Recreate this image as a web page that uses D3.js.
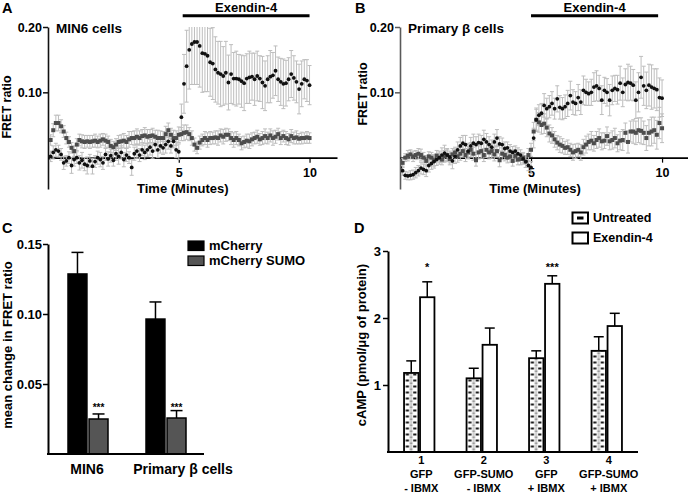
<!DOCTYPE html>
<html>
<head>
<meta charset="utf-8">
<script src="https://cdn.jsdelivr.net/npm/d3@7/dist/d3.min.js"></script>
<style>
  body { margin: 0; background: #fff; }
  svg text { font-family: Arial, "Liberation Sans", Helvetica, sans-serif; font-weight: bold; fill: #000; }
</style>
</head>
<body>
<svg id="chart" width="688" height="496"></svg>
<script>
// ================= DATA =================
// Sampling grid for panels A and B (minutes)
const timeMinutes = d3.range(101).map(i => i / 10);
const timeTicks = [5, 10];
const fretTicks = [0.10, 0.20];

// Panel A – MIN6 cells, FRET ratio (x1000)
const aMCherry = [
  0, 2, 8, 12, 10, 5, -8, -5, 0, -12,
  -3, 0, -8, -4, -10, -12, -5, -13, -6, 0,
  -3, -8, 5, -2, 3, -4, 6, 2, 8, -3,
  4, 0, -15, 6, 10, 4, 12, 8, 12, 16,
  10, 20, 12, 18, 15, 20, 25, 18, 25, 12,
  9, 62, 113, 140, 165, 174, 177, 177, 171, 160,
  159, 156, 146, 144, 135, 130, 128, 125, 130, 115,
  128, 121, 121, 120, 117, 114, 121, 123, 124, 120,
  125, 121, 115, 110, 120, 124, 126, 133, 120, 116,
  113, 114, 120, 128, 122, 116, 105, 113, 120, 118,
  111];
const aMCherryErr = [
  6, 8, 10, 10, 9, 9, 10, 8, 9, 12,
  10, 9, 11, 12, 10, 13, 10, 12, 9, 10,
  11, 10, 9, 11, 10, 9, 10, 12, 10, 11,
  10, 9, 12, 10, 11, 10, 9, 11, 10, 12,
  11, 10, 12, 11, 10, 13, 12, 11, 10, 12,
  12, 20, 45, 55, 60, 62, 65, 65, 63, 60,
  58, 55, 52, 55, 50, 48, 50, 45, 48, 42,
  45, 40, 42, 38, 40, 42, 38, 40, 36, 40,
  38, 35, 40, 38, 36, 40, 35, 38, 34, 36,
  38, 35, 33, 36, 34, 32, 38, 35, 30, 32,
  30];
const aSumo = [
  0, 27, 42, 53, 53, 48, 40, 30, 24, 15,
  10, 20, 27, 25, 24, 25, 24, 25, 26, 24,
  26, 28, 26, 24, 18, 16, 20, 24, 25, 26,
  24, 28, 30, 30, 32, 30, 33, 34, 32, 33,
  34, 32, 30, 30, 30, 36, 42, 35, 30, 30,
  35, 36, 38, 39, 36, 30, 20, 15, 23, 27,
  30, 27, 30, 30, 31, 30, 34, 32, 35, 35,
  30, 27, 30, 27, 22, 24, 26, 25, 28, 30,
  32, 28, 30, 33, 30, 34, 30, 32, 36, 30,
  33, 30, 28, 33, 30, 31, 29, 30, 30, 31,
  30];
const aSumoErr = [
  5, 8, 10, 12, 12, 10, 9, 9, 8, 8,
  8, 9, 9, 10, 10, 9, 10, 9, 10, 9,
  10, 9, 10, 9, 10, 9, 9, 10, 10, 11,
  10, 12, 10, 11, 12, 11, 10, 12, 11, 10,
  11, 10, 12, 11, 10, 12, 11, 10, 12, 11,
  12, 10, 12, 11, 10, 11, 10, 9, 10, 9,
  10, 11, 10, 9, 10, 11, 10, 11, 10, 9,
  10, 11, 10, 9, 10, 9, 10, 11, 10, 9,
  10, 9, 10, 11, 9, 10, 11, 10, 9, 10,
  9, 10, 9, 10, 9, 10, 8, 9, 8, 9,
  8];

// Panel B – Primary beta cells, FRET ratio (x1000)
const bMCherry = [
  -15, -20, -27, -28, -27, -26, -23, -20, -16, -18,
  -20, -12, -9, -6, -3, 0, 4, 7, 4, 1,
  -5, 2, 12, 18, 22, 20, 10, 18, 22, 20,
  23, 22, 28, 24, 20, 16, 24, 30, 21, 20,
  14, 15, 10, 8, 10, 6, 4, -2, -6, -12,
  -15, 30, 58, 65, 68, 80, 75, 78, 83, 75,
  90, 77, 75, 78, 83, 95, 85, 83, 92, 85,
  103, 100, 98, 100, 108, 110, 106, 88, 103, 100,
  88, 103, 106, 104, 114, 100, 112, 115, 114, 111,
  88, 100, 123, 110, 103, 111, 108, 106, 104, 92,
  91];
const bMCherryErr = [
  8, 7, 6, 6, 7, 7, 8, 8, 9, 8,
  9, 10, 9, 10, 9, 10, 11, 12, 10, 9,
  12, 11, 12, 13, 12, 14, 12, 13, 14, 12,
  13, 12, 14, 13, 12, 11, 12, 13, 11, 10,
  10, 9, 10, 9, 8, 9, 8, 8, 9, 8,
  9, 15, 18, 16, 15, 18, 16, 17, 18, 16,
  20, 18, 17, 18, 20, 22, 19, 18, 20, 19,
  22, 20, 18, 20, 22, 23, 20, 22, 20, 21,
  24, 22, 20, 22, 26, 22, 24, 28, 26, 24,
  28, 30, 32, 30, 28, 32, 34, 30, 32, 30,
  28];
const bSumo = [
  -5, -8, 0, 3, 5, 2, 4, 6, 4, 0,
  -5, 2, 0, -4, 3, 0, -3, 2, 4, -2,
  5, 8, 2, 6, 10, 4, 8, 12, 6, -4,
  8, 10, 4, 12, 8, 10, 5, 10, -4, 6,
  4, 0, 2, -5, 3, -3, -2, 0, -6, 4,
  12, 40, 58, 54, 50, 52, 46, 37, 34, 28,
  23, 20, 18, 15, 16, 12, 8, 10, 12, 8,
  16, 20, 24, 26, 22, 27, 30, 25, 26, 33,
  25, 27, 30, 22, 26, 27, 38, 24, 40, 40,
  38, 42, 41, 38, 30, 38, 40, 42, 35, 53,
  45];
const bSumoErr = [
  7, 7, 6, 8, 7, 8, 7, 8, 9, 8,
  8, 7, 8, 9, 8, 7, 8, 9, 8, 9,
  9, 8, 9, 10, 9, 10, 9, 11, 10, 9,
  10, 11, 10, 12, 10, 11, 10, 9, 10, 9,
  9, 8, 9, 8, 9, 8, 9, 8, 9, 10,
  10, 14, 16, 15, 14, 15, 14, 13, 12, 12,
  11, 12, 11, 10, 11, 10, 12, 11, 10, 12,
  12, 13, 12, 14, 12, 13, 14, 13, 12, 14,
  13, 14, 15, 13, 14, 16, 15, 17, 16, 18,
  18, 19, 20, 18, 19, 20, 22, 20, 22, 24,
  22];

// Panel C – mean change in FRET ratio
const cCategories = ["MIN6", "Primary β cells"];
const cSeriesNames = ["mCherry", "mCherry SUMO"];
const cMCherry = [0.1286, 0.0964];
const cMCherryErr = [0.0154, 0.0122];
const cSumo = [0.0250, 0.0257];
const cSumoErr = [0.0036, 0.0053];
const cSignif = ["***", "***"];
const cTicks = [0.05, 0.10, 0.15];

// Panel D – cAMP
const dGroups = ["1", "2", "3", "4"];
const dLine1 = ["GFP", "GFP-SUMO", "GFP", "GFP-SUMO"];
const dLine2 = ["- IBMX", "- IBMX", "+ IBMX", "+ IBMX"];
const dSeriesNames = ["Untreated", "Exendin-4"];
const dUntreated = [1.18, 1.10, 1.40, 1.51];
const dUntreatedErr = [0.18, 0.15, 0.11, 0.21];
const dExendin = [2.31, 1.60, 2.51, 1.88];
const dExendinErr = [0.23, 0.25, 0.12, 0.19];
const dSignif = ["*", "", "***", ""];
const dTicks = [1, 2, 3];

// ================= DRAWING =================
const svg = d3.select("#chart");
const defs = svg.append("defs");

function letter(t, x, y) {
  svg.append("text").attr("x", x).attr("y", y).attr("font-size", 14.5).text(t);
}

function timePanel(o) {
  const x = d3.scaleLinear().domain([0, o.xMax]).range([o.left, o.right]);
  const y = d3.scaleLinear().domain([-0.048, 0.2]).range([189, 27]);
  const g = svg.append("g");

  // y axis
  const ya = g.append("g").attr("transform", `translate(${o.left},0)`)
    .call(d3.axisLeft(y).tickValues(fretTicks).tickFormat(d3.format(".2f"))
      .tickSize(5).tickSizeOuter(0).tickPadding(1));
  ya.attr("font-size", 12.5);
  ya.select(".domain").attr("stroke", o.yColor).attr("stroke-width", 1.6);
  ya.selectAll(".tick line").attr("stroke", o.yColor).attr("stroke-width", 1.5);

  // x axis at zero
  const xa = g.append("g").attr("transform", `translate(0,${y(0)})`)
    .call(d3.axisBottom(x).tickValues(timeTicks).tickFormat(d3.format("d"))
      .tickSize(5).tickSizeOuter(0).tickPadding(5));
  xa.attr("font-size", 12.5);
  xa.select(".domain").attr("stroke", "#000").attr("stroke-width", 1.6);
  xa.selectAll(".tick line").attr("stroke-width", 1.2);

  // clip
  const clipId = "clip-" + o.id;
  defs.append("clipPath").attr("id", clipId).append("rect")
    .attr("x", o.left + 1).attr("y", y(0.2)).attr("width", o.right - o.left)
    .attr("height", y(-0.048) - y(0.2));
  const plot = g.append("g").attr("clip-path", `url(#${clipId})`);

  const seriesPts = o.series.map(s => timeMinutes.map((t, i) => ({
    t, v: s.values[i] / 1000, e: s.err[i] / 1000
  })));

  // error bars
  seriesPts.forEach(pts => {
    const eb = plot.append("g").attr("stroke", "#bdbdbd").attr("stroke-width", 1);
    eb.selectAll("line.v").data(pts).join("line").attr("class", "v")
      .attr("x1", d => x(d.t)).attr("x2", d => x(d.t))
      .attr("y1", d => y(d.v - d.e)).attr("y2", d => y(d.v + d.e));
    eb.selectAll("line.ct").data(pts).join("line").attr("class", "ct")
      .attr("x1", d => x(d.t) - 2).attr("x2", d => x(d.t) + 2)
      .attr("y1", d => y(d.v + d.e)).attr("y2", d => y(d.v + d.e));
    eb.selectAll("line.cb").data(pts).join("line").attr("class", "cb")
      .attr("x1", d => x(d.t) - 2).attr("x2", d => x(d.t) + 2)
      .attr("y1", d => y(d.v - d.e)).attr("y2", d => y(d.v - d.e));
  });

  // markers: squares (SUMO) then circles (mCherry)
  plot.append("g").selectAll("rect").data(seriesPts[1]).join("rect")
    .attr("x", d => x(d.t) - 2).attr("y", d => y(d.v) - 2)
    .attr("width", 4).attr("height", 4).attr("fill", "#4d4d4d");
  plot.append("g").selectAll("circle").data(seriesPts[0]).join("circle")
    .attr("cx", d => x(d.t)).attr("cy", d => y(d.v)).attr("r", 1.9).attr("fill", "#111");

  // Exendin-4 bar
  g.append("line").attr("x1", x(o.exStart)).attr("x2", x(o.exEnd))
    .attr("y1", 15.8).attr("y2", 15.8).attr("stroke", "#000").attr("stroke-width", 3);
  g.append("text").attr("x", (x(o.exStart) + x(o.exEnd)) / 2).attr("y", 12)
    .attr("text-anchor", "middle").attr("font-size", 13).text("Exendin-4");

  // titles
  g.append("text").attr("x", o.left + 8).attr("y", 33).attr("font-size", 13.5).text(o.title);
  g.append("text").attr("x", x(5) + 4).attr("y", 193).attr("text-anchor", "middle")
    .attr("font-size", 13).text("Time (Minutes)");
  g.append("text").attr("transform", `translate(${o.yLabelX},${o.yLabelY}) rotate(-90)`)
    .attr("text-anchor", "middle").attr("font-size", 12.5).text("FRET ratio");
}

letter("A", 2, 13);
timePanel({
  id: "A", left: 48, right: 337, xMax: 11.05, yColor: "#111",
  exStart: 5.15, exEnd: 10.0, title: "MIN6 cells", yLabelX: 11, yLabelY: 107,
  series: [{ values: aMCherry, err: aMCherryErr }, { values: aSumo, err: aSumoErr }]
});
letter("B", 355, 13);
timePanel({
  id: "B", left: 400, right: 688, xMax: 10.99, yColor: "#5a5a5a",
  exStart: 5.0, exEnd: 9.85, title: "Primary β cells", yLabelX: 367, yLabelY: 94,
  series: [{ values: bMCherry, err: bMCherryErr }, { values: bSumo, err: bSumoErr }]
});

// ---------- Panel C ----------
letter("C", 2, 233);
(function () {
  const x0 = d3.scaleBand().domain(cCategories).range([48, 204]);
  const x1 = d3.scaleBand().domain(cSeriesNames).range([20, 60]).paddingInner(0.1);
  const y = d3.scaleLinear().domain([0, 0.15]).range([454, 244]);
  const g = svg.append("g");
  const fills = { "mCherry": "#000", "mCherry SUMO": "#555" };

  const rows = [];
  cCategories.forEach((c, i) => {
    rows.push({ c, s: "mCherry", v: cMCherry[i], e: cMCherryErr[i], sig: "" });
    rows.push({ c, s: "mCherry SUMO", v: cSumo[i], e: cSumoErr[i], sig: cSignif[i] });
  });
  const bx = d => x0(d.c) + x1(d.s);
  const bw = x1.bandwidth();

  // error bars (up only)
  g.selectAll("line.ev").data(rows).join("line")
    .attr("x1", d => bx(d) + bw / 2).attr("x2", d => bx(d) + bw / 2)
    .attr("y1", d => y(d.v)).attr("y2", d => y(d.v + d.e))
    .attr("stroke", "#000").attr("stroke-width", 1.5);
  g.selectAll("line.ec").data(rows).join("line")
    .attr("x1", d => bx(d) + bw / 2 - 6).attr("x2", d => bx(d) + bw / 2 + 6)
    .attr("y1", d => y(d.v + d.e)).attr("y2", d => y(d.v + d.e))
    .attr("stroke", "#000").attr("stroke-width", 1.5);

  g.selectAll("rect.bar").data(rows).join("rect")
    .attr("x", bx).attr("y", d => y(d.v)).attr("width", bw)
    .attr("height", d => y(0) - y(d.v))
    .attr("fill", d => fills[d.s]).attr("stroke", "#000").attr("stroke-width", 1.5);

  g.selectAll("text.sig").data(rows.filter(d => d.sig)).join("text")
    .attr("x", d => bx(d) + bw / 2).attr("y", 411).attr("text-anchor", "middle")
    .attr("font-size", 10).text(d => d.sig);

  // axes
  const ya = g.append("g").attr("transform", "translate(48,0)")
    .call(d3.axisLeft(y).tickValues(cTicks).tickFormat(d3.format(".2f"))
      .tickSize(5).tickSizeOuter(0).tickPadding(1));
  ya.attr("font-size", 13);
  ya.select(".domain").attr("stroke-width", 2);
  ya.selectAll(".tick line").attr("stroke-width", 1.5);
  g.append("line").attr("x1", 47).attr("x2", 204).attr("y1", y(0)).attr("y2", y(0))
    .attr("stroke", "#000").attr("stroke-width", 2);

  // category labels
  g.selectAll("text.cat").data(cCategories).join("text")
    .attr("x", (d, i) => x0(d) + x0.bandwidth() / 2 + (i === 1 ? 18 : 0))
    .attr("y", 474).attr("text-anchor", "middle").attr("font-size", 14).text(d => d);

  g.append("text").attr("transform", "translate(12,345) rotate(-90)")
    .attr("text-anchor", "middle").attr("font-size", 13).text("mean change in FRET ratio");

  // legend
  const lg = g.append("g");
  cSeriesNames.forEach((s, i) => {
    lg.append("rect").attr("x", 188).attr("y", 241 + i * 15).attr("width", 16).attr("height", 9.5)
      .attr("fill", fills[s]).attr("stroke", "#000").attr("stroke-width", 1.2);
    lg.append("text").attr("x", 209).attr("y", 250 + i * 15).attr("font-size", 13).text(s);
  });
})();

// ---------- Panel D ----------
letter("D", 354, 233);
(function () {
  const x0 = d3.scaleBand().domain(dGroups).range([388, 638]);
  const x1 = d3.scaleBand().domain(dSeriesNames).range([15.25, 47.25]);
  const y = d3.scaleLinear().domain([0, 3]).range([452, 251]);
  const g = svg.append("g");

  // hatch pattern for untreated bars
  const pat = defs.append("pattern").attr("id", "untreatedPat")
    .attr("patternUnits", "userSpaceOnUse")
    .attr("x", x0(dGroups[0]) + x1("Untreated")).attr("y", 0)
    .attr("width", x0.step()).attr("height", 6);
  pat.append("rect").attr("width", x0.step()).attr("height", 6).attr("fill", "#fff");
  pat.append("rect").attr("x", 2.5).attr("y", 1.5).attr("width", 3.2).attr("height", 2).attr("fill", "#1a1a1a");
  pat.append("rect").attr("x", 10).attr("y", 1.5).attr("width", 3.2).attr("height", 2).attr("fill", "#1a1a1a");
  pat.append("rect").attr("x", 6.6).attr("y", 0).attr("width", 2.6).attr("height", 6).attr("fill", "#d0d0d0");
  pat.append("rect").attr("x", 6.6).attr("y", 4.5).attr("width", 2.6).attr("height", 1.5).attr("fill", "#9a9a9a");

  const rows = [];
  dGroups.forEach((gname, i) => {
    rows.push({ g: gname, s: "Untreated", v: dUntreated[i], e: dUntreatedErr[i], sig: "" });
    rows.push({ g: gname, s: "Exendin-4", v: dExendin[i], e: dExendinErr[i], sig: dSignif[i] });
  });
  const bx = d => x0(d.g) + x1(d.s);
  const bw = x1.bandwidth();

  g.selectAll("line.ev").data(rows).join("line")
    .attr("x1", d => bx(d) + bw / 2).attr("x2", d => bx(d) + bw / 2)
    .attr("y1", d => y(d.v)).attr("y2", d => y(d.v + d.e))
    .attr("stroke", "#000").attr("stroke-width", 1.5);
  g.selectAll("line.ec").data(rows).join("line")
    .attr("x1", d => bx(d) + bw / 2 - 5).attr("x2", d => bx(d) + bw / 2 + 5)
    .attr("y1", d => y(d.v + d.e)).attr("y2", d => y(d.v + d.e))
    .attr("stroke", "#000").attr("stroke-width", 1.5);

  g.selectAll("rect.bar").data(rows).join("rect")
    .attr("x", d => bx(d) + 0.8).attr("y", d => y(d.v)).attr("width", bw - 1.6)
    .attr("height", d => y(0) - y(d.v))
    .attr("fill", d => d.s === "Untreated" ? "url(#untreatedPat)" : "#fff")
    .attr("stroke", "#000").attr("stroke-width", 1.8);

  g.selectAll("text.sig").data(rows.filter(d => d.sig)).join("text")
    .attr("x", d => bx(d) + bw / 2).attr("y", 271).attr("text-anchor", "middle")
    .attr("font-size", 11).text(d => d.sig);

  const ya = g.append("g").attr("transform", "translate(388,0)")
    .call(d3.axisLeft(y).tickValues(dTicks).tickFormat(d3.format("d"))
      .tickSize(5).tickSizeOuter(0).tickPadding(2));
  ya.attr("font-size", 13);
  ya.select(".domain").attr("stroke-width", 2);
  ya.selectAll(".tick line").attr("stroke-width", 1.5);
  g.append("line").attr("x1", 387).attr("x2", 638).attr("y1", y(0)).attr("y2", y(0))
    .attr("stroke", "#000").attr("stroke-width", 2);

  const lab = g.selectAll("g.lab").data(dGroups).join("g")
    .attr("transform", d => `translate(${x0(d) + x0.bandwidth() / 2 + 2},0)`);
  lab.append("text").attr("y", 464).attr("text-anchor", "middle").attr("font-size", 11).text(d => d);
  lab.append("text").attr("y", 478).attr("text-anchor", "middle").attr("font-size", 11).text((d, i) => dLine1[i]);
  lab.append("text").attr("y", 492).attr("text-anchor", "middle").attr("font-size", 11).text((d, i) => dLine2[i]);

  g.append("text").attr("transform", "translate(366,345) rotate(-90)")
    .attr("text-anchor", "middle").attr("font-size", 13).text("cAMP (pmol/μg of protein)");

  // legend
  const lg = g.append("g");
  dSeriesNames.forEach((s, i) => {
    lg.append("rect").attr("x", 572.5).attr("y", 212.5 + i * 20).attr("width", 15.5).attr("height", 11)
      .attr("fill", "#fff").attr("stroke", "#000").attr("stroke-width", 2);
    if (s === "Untreated") {
      lg.append("rect").attr("x", 577).attr("y", 216.5).attr("width", 6.5).attr("height", 3).attr("fill", "#000");
    }
    lg.append("text").attr("x", 593).attr("y", 222 + i * 20).attr("font-size", 12.5).text(s);
  });
})();
</script>
</body>
</html>
